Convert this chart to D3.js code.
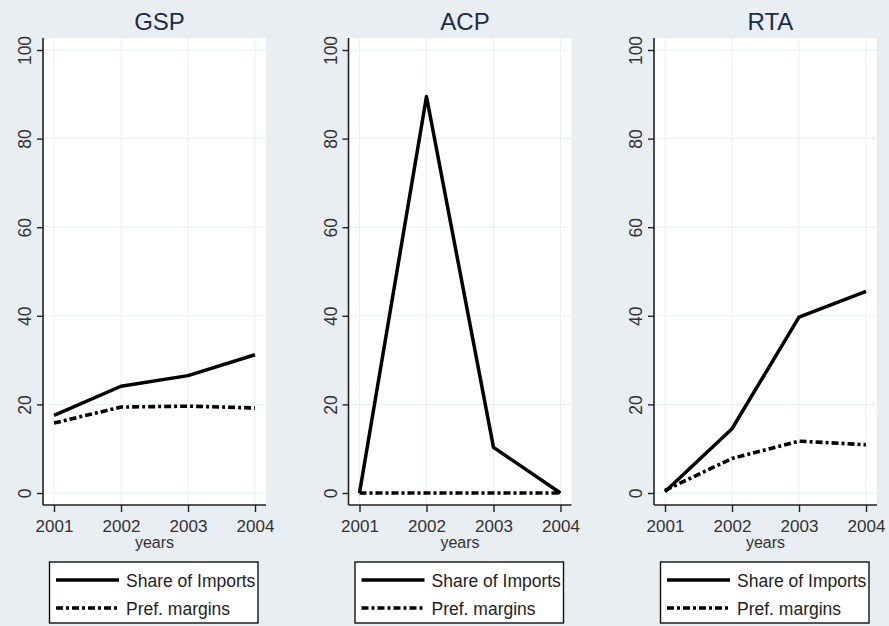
<!DOCTYPE html>
<html>
<head>
<meta charset="utf-8">
<script src="https://cdn.jsdelivr.net/npm/d3@7"></script>
<style>
  html, body { margin: 0; padding: 0; background: #e8eef1; }
  svg { display: block; }
  text { font-family: "Liberation Sans", Arial, sans-serif; }
</style>
</head>
<body>
<svg id="chart" width="889" height="626"></svg>
<script>
// Panels and series
const panels = ["GSP", "ACP", "RTA"];
const years = [2001, 2002, 2003, 2004];
const shareOfImports = {
  GSP: [17.5, 24.1, 26.5, 31.2],
  ACP: [0, 89.5, 10.3, 0],
  RTA: [0.3, 14.5, 39.7, 45.5]
};
const prefMargins = {
  GSP: [15.8, 19.4, 19.6, 19.2],
  ACP: [0, 0, 0, 0],
  RTA: [0.6, 7.8, 11.7, 10.9]
};
const yTicks = [0, 20, 40, 60, 80, 100];
const seriesNames = ["Share of Imports", "Pref. margins"];

const svg = d3.select("#chart");
const panelStep = 305.5;
const PREF_DASH = "7,3,3,3";

panels.forEach((name, i) => {
  const ox = i * panelStep;
  const g = svg.append("g").attr("transform", `translate(${ox},0)`);

  const left = 43, right = 266, top = 38, bottom = 505;
  const x = d3.scaleLinear().domain([2001, 2004]).range([54, 255]);
  const y = d3.scaleLinear().domain([0, 100]).range([493, 50]);

  // plot region
  g.append("rect").attr("x", left).attr("y", top)
    .attr("width", right - left).attr("height", bottom - top)
    .attr("fill", "#ffffff");

  // grid
  g.append("g").selectAll("line").data(yTicks).join("line")
    .attr("x1", left).attr("x2", right)
    .attr("y1", d => y(d)).attr("y2", d => y(d))
    .attr("stroke", "#eaf0f3").attr("stroke-width", 1);
  g.append("g").selectAll("line").data(years).join("line")
    .attr("y1", top).attr("y2", bottom)
    .attr("x1", d => x(d)).attr("x2", d => x(d))
    .attr("stroke", "#eaf0f3").attr("stroke-width", 1);

  // title
  g.append("text").attr("x", (left + right) / 2 + 5).attr("y", 30)
    .attr("text-anchor", "middle").attr("font-size", 24)
    .attr("fill", "#1c2b4d").text(name);

  // y axis
  const yAxis = d3.axisLeft(y).tickValues(yTicks).tickSize(6).tickPadding(5);
  const ya = g.append("g").attr("transform", `translate(${left},0)`).call(yAxis);
  ya.select(".domain").attr("d", `M0,${top}V${bottom}`).attr("stroke", "#222").attr("stroke-width", 1.6);
  ya.selectAll(".tick line").attr("stroke", "#222").attr("stroke-width", 1.4);
  ya.selectAll(".tick text")
    .attr("font-size", 17.5).attr("fill", "#333")
    .attr("text-anchor", "middle").attr("dy", null)
    .attr("x", null).attr("y", 0)
    .attr("transform", "translate(-12,0) rotate(-90)");

  // x axis
  const xAxis = d3.axisBottom(x).tickValues(years).tickFormat(d3.format("d")).tickSize(7).tickPadding(8);
  const xa = g.append("g").attr("transform", `translate(0,${bottom})`).call(xAxis);
  xa.select(".domain").attr("d", `M${left},0H${right}`).attr("stroke", "#222").attr("stroke-width", 1.6);
  xa.selectAll(".tick line").attr("stroke", "#222").attr("stroke-width", 1.4);
  xa.selectAll(".tick text").attr("font-size", 17).attr("fill", "#333");

  g.append("text").attr("x", (x(2001) + x(2004)) / 2).attr("y", 548)
    .attr("text-anchor", "middle").attr("font-size", 16).attr("fill", "#333")
    .text("years");

  // lines
  const line = d3.line().x((d, k) => x(years[k])).y(d => y(d));
  g.append("path").datum(shareOfImports[name]).attr("d", line)
    .attr("fill", "none").attr("stroke", "#000").attr("stroke-width", 3.5)
    .attr("stroke-linejoin", "round");
  g.append("path").datum(prefMargins[name]).attr("d", line)
    .attr("fill", "none").attr("stroke", "#000").attr("stroke-width", 3.6)
    .attr("stroke-dasharray", PREF_DASH);

  // legend
  const lg = g.append("g");
  lg.append("rect").attr("x", 49.5).attr("y", 562).attr("width", 208.5).attr("height", 61)
    .attr("fill", "#fff").attr("stroke", "#111").attr("stroke-width", 1.4);
  seriesNames.forEach((s, k) => {
    const ly = 580 + k * 28;
    lg.append("line").attr("x1", 56).attr("x2", 119).attr("y1", ly).attr("y2", ly)
      .attr("stroke", "#000").attr("stroke-width", 3.6)
      .attr("stroke-dasharray", k === 1 ? PREF_DASH : null);
    lg.append("text").attr("x", 126).attr("y", ly + 6.5)
      .attr("font-size", 17.5).attr("fill", "#222").text(s);
  });
});
</script>
</body>
</html>
